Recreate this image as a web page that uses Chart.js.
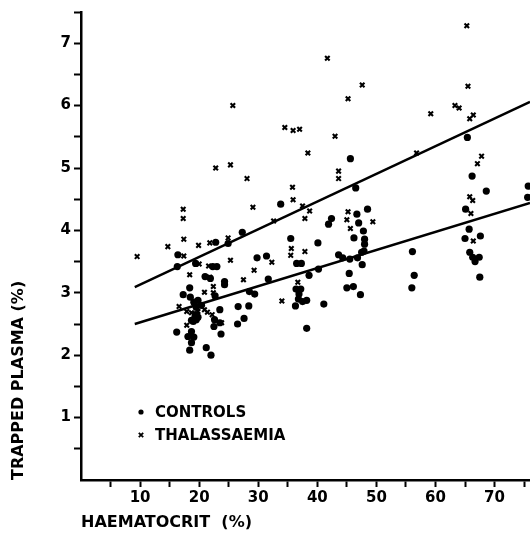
<!DOCTYPE html>
<html>
<head>
<meta charset="utf-8">
<script src="https://cdn.jsdelivr.net/npm/chart.js@4/dist/chart.umd.min.js"></script>
<style>
  html, body { margin: 0; padding: 0; background: #ffffff; }
  #wrap { width: 530px; height: 536px; position: relative; }
</style>
</head>
<body>
<div id="wrap"><canvas id="c" width="530" height="536"></canvas></div>
<script>
// ---- data ----
const seriesLabels = ['CONTROLS', 'THALASSAEMIA'];

const controlsX = [16.4,16.3,19.4,21.0,21.9,22.3,23.0,24.9,22.8,27.3,33.8,35.5,40.1,29.8,31.4,36.5,37.3,24.3,24.3,31.7,38.6,40.2,18.4,17.3,18.5,19.1,19.8,19.5,20.4,22.7,28.5,29.4,28.4,26.6,23.5,19.3,19.5,19.0,27.6,26.5,22.6,23.5,22.5,23.7,16.2,18.1,19.1,18.7,18.7,18.4,21.2,22.0,36.3,38.2,36.4,37.2,36.9,36.8,37.5,38.2,41.1,45.6,46.5,42.4,41.9,46.7,48.5,47.0,47.8,46.2,48.0,48.0,47.9,43.6,44.3,45.5,46.8,47.5,56.1,47.6,45.4,56.4,45.0,46.1,47.3,56.0,65.4,66.2,68.6,75.7,75.6,65.1,65.7,65.0,67.6,65.8,66.3,66.7,67.4,67.5,19.4,19.8,18.7];
const controlsY = [3.61,3.42,3.47,3.26,3.23,3.42,3.42,3.79,3.81,3.97,4.42,3.87,3.80,3.56,3.59,3.47,3.47,3.18,3.13,3.22,3.28,3.38,3.08,2.97,2.93,2.85,2.88,2.77,2.80,2.95,3.02,2.98,2.79,2.78,2.73,2.62,2.57,2.54,2.59,2.50,2.57,2.52,2.46,2.34,2.37,2.30,2.29,2.38,2.20,2.08,2.12,2.00,2.79,2.43,3.06,3.06,2.98,2.90,2.86,2.88,2.82,5.15,4.68,4.19,4.10,4.26,4.34,4.12,3.99,3.88,3.86,3.78,3.67,3.61,3.56,3.54,3.56,3.65,3.66,3.45,3.31,3.28,3.08,3.10,2.97,3.08,5.49,4.87,4.63,4.71,4.53,4.34,4.02,3.87,3.91,3.65,3.57,3.50,3.57,3.25,2.65,2.61,2.56];

const thalX = [9.5,22.8,25.3,28.1,25.7,38.4,35.8,35.9,37.5,38.7,37.9,29.1,32.6,17.3,17.3,17.4,14.7,19.9,21.8,24.9,17.4,20.0,21.6,25.3,18.4,21.8,29.3,27.5,32.3,35.6,35.5,37.9,22.4,22.4,20.9,16.6,17.9,18.7,19.8,20.9,21.4,22.2,23.8,17.9,34.0,36.7,43.6,43.6,45.2,45.0,45.6,49.4,65.5,59.2,63.3,64.0,66.4,65.8,67.8,67.1,65.8,66.3,66.0,66.4,65.3,41.7,47.6,45.2,43.0,56.8,34.5,35.9,37.0];
const thalY = [3.58,5.00,5.05,4.83,6.00,5.24,4.69,4.49,4.39,4.31,4.19,4.37,4.15,4.34,4.19,3.86,3.74,3.76,3.80,3.88,3.59,3.46,3.43,3.52,3.29,3.25,3.36,3.21,3.49,3.71,3.60,3.66,3.10,3.00,3.01,2.78,2.70,2.68,2.70,2.73,2.69,2.65,2.52,2.48,2.87,3.17,4.95,4.83,4.30,4.17,4.03,4.14,6.31,5.87,6.00,5.96,5.85,5.79,5.19,5.07,4.54,4.48,4.27,3.83,7.28,6.76,6.33,6.11,5.51,5.24,5.65,5.60,5.62];

// regression lines (end points)
const fitX = [9.1, 76];
const thalFitY = [3.09, 6.06];
const controlsFitY = [2.50, 4.44];

// axis ticks
const xTicks = [5,10,15,20,25,30,35,40,45,50,55,60,65,70,75];
const xLabelled = [10,20,30,40,50,60,70];
const yTicks = [0.5,1,1.5,2,2.5,3,3.5,4,4.5,5,5.5,6,6.5,7,7.5];
const yLabelled = [1,2,3,4,5,6,7];

const xTitle = 'HAEMATOCRIT  (%)';
const yTitle = 'TRAPPED PLASMA (%)';

// ---- build ----
const zip = (xs, ys) => xs.map((x, i) => ({ x: x, y: ys[i] }));
const FONT = "'DejaVu Sans', sans-serif";

const innerLegend = {
  id: 'innerLegend',
  afterDraw(chart) {
    const ctx = chart.ctx;
    ctx.save();
    ctx.fillStyle = '#000';
    ctx.strokeStyle = '#000';
    ctx.font = "bold 15px " + FONT;
    ctx.textBaseline = 'middle';
    ctx.textAlign = 'left';
    const mx = 141, tx = 155;
    const y1 = 412, y2 = 435;
    ctx.beginPath();
    ctx.arc(mx, y1, 2.6, 0, Math.PI * 2);
    ctx.fill();
    ctx.fillText(seriesLabels[0], tx, y1 + 1);
    ctx.lineWidth = 1.8;
    const r = 2.2;
    ctx.beginPath();
    ctx.moveTo(mx - r, y2 - r); ctx.lineTo(mx + r, y2 + r);
    ctx.moveTo(mx + r, y2 - r); ctx.lineTo(mx - r, y2 + r);
    ctx.stroke();
    ctx.fillText(seriesLabels[1], tx, y2 + 1);
    ctx.restore();
  }
};

new Chart(document.getElementById('c'), {
  type: 'scatter',
  data: {
    datasets: [
      {
        label: seriesLabels[0],
        data: zip(controlsX, controlsY),
        pointStyle: 'circle',
        pointRadius: 3.6,
        pointBackgroundColor: '#000',
        pointBorderWidth: 0,
        pointHoverRadius: 3.6
      },
      {
        label: seriesLabels[1],
        data: zip(thalX, thalY),
        pointStyle: 'crossRot',
        pointRadius: 3.2,
        pointBorderColor: '#000',
        pointBorderWidth: 2.1,
        pointHoverRadius: 3.2
      },
      {
        label: 'thal fit',
        type: 'line',
        data: zip(fitX, thalFitY),
        borderColor: '#000',
        borderWidth: 2.4,
        pointRadius: 0,
        fill: false
      },
      {
        label: 'controls fit',
        type: 'line',
        data: zip(fitX, controlsFitY),
        borderColor: '#000',
        borderWidth: 2.4,
        pointRadius: 0,
        fill: false
      }
    ]
  },
  options: {
    responsive: false,
    animation: false,
    events: [],
    layout: { autoPadding: false, padding: { top: 10, right: 0, bottom: 0, left: 0 } },
    plugins: {
      legend: { display: false },
      tooltip: { enabled: false },
      title: { display: false }
    },
    scales: {
      x: {
        type: 'linear',
        min: 0,
        max: 76,
        afterBuildTicks: s => { s.ticks = xTicks.map(v => ({ value: v })); },
        afterFit: s => { s.height = 56; },
        ticks: {
          autoSkip: false,
          maxRotation: 0,
          padding: 2,
          color: '#000',
          font: { family: FONT, size: 15, weight: 'bold' },
          callback: v => xLabelled.includes(v) ? String(v) : ''
        },
        grid: {
          display: true,
          drawOnChartArea: false,
          drawTicks: true,
          tickLength: 7,
          tickWidth: 2,
          tickColor: '#000'
        },
        border: { display: true, color: '#000', width: 2.5 },
        title: {
          display: true,
          text: xTitle,
          align: 'start',
          color: '#000',
          font: { family: FONT, size: 16, weight: 'bold' },
          padding: { top: 0, bottom: 4 }
        }
      },
      y: {
        type: 'linear',
        min: 0,
        max: 7.5,
        afterBuildTicks: s => { s.ticks = yTicks.map(v => ({ value: v })); },
        afterFit: s => { s.width = 81; },
        ticks: {
          autoSkip: false,
          padding: 3,
          color: '#000',
          font: { family: FONT, size: 15, weight: 'bold' },
          callback: v => yLabelled.includes(v) ? String(v) : ''
        },
        grid: {
          display: true,
          drawOnChartArea: false,
          drawTicks: true,
          tickLength: 7,
          tickWidth: 2,
          tickColor: '#000'
        },
        border: { display: true, color: '#000', width: 2.5 },
        title: {
          display: true,
          text: yTitle,
          align: 'start',
          color: '#000',
          font: { family: FONT, size: 16, weight: 'bold' },
          padding: { top: 9, bottom: 0 }
        }
      }
    }
  },
  plugins: [innerLegend]
});
</script>
</body>
</html>
